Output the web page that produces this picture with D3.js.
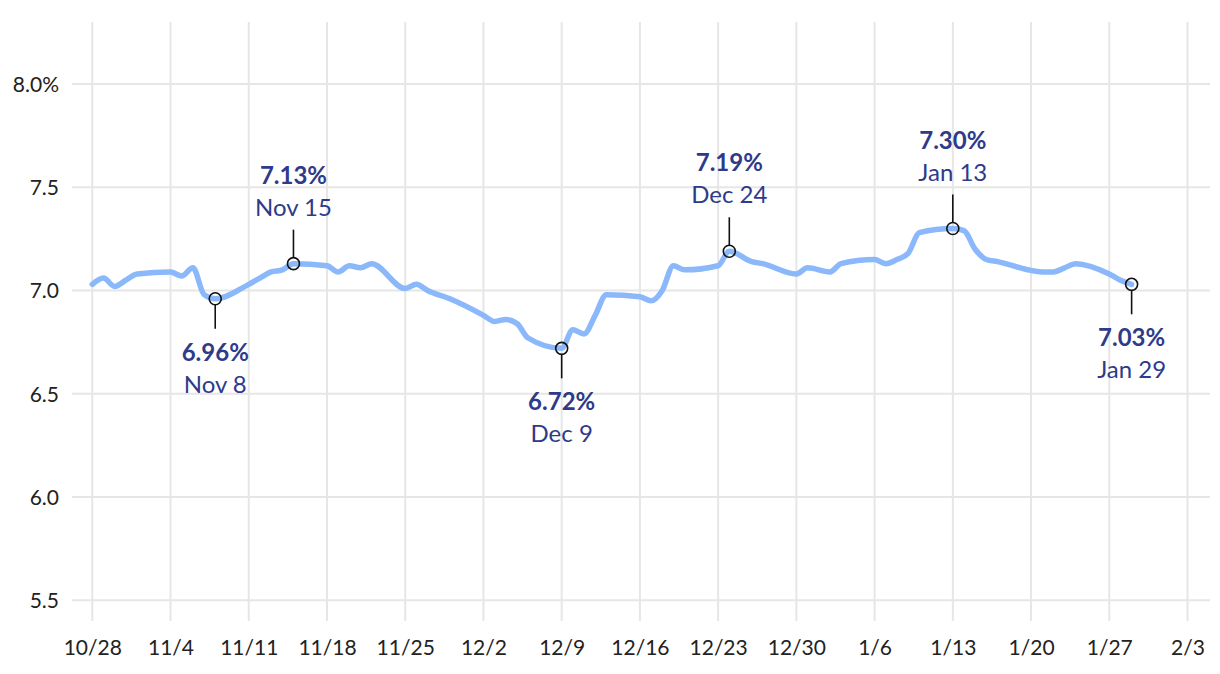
<!DOCTYPE html>
<html>
<head>
<meta charset="utf-8">
<script src="https://cdn.jsdelivr.net/npm/d3@7"></script>
<style>
  html, body { margin: 0; padding: 0; background: #fff; }
  svg { display: block; font-family: "Lato", "Source Sans Pro", sans-serif; }
</style>
</head>
<body>
<svg id="chart" width="1220" height="674"></svg>
<script>
// ---- data ----
const dates = [
  "2024-10-28","2024-10-29","2024-10-30","2024-10-31","2024-11-01",
  "2024-11-04","2024-11-05","2024-11-06","2024-11-07","2024-11-08",
  "2024-11-11","2024-11-12","2024-11-13","2024-11-14","2024-11-15",
  "2024-11-18","2024-11-19","2024-11-20","2024-11-21","2024-11-22",
  "2024-11-25","2024-11-26","2024-11-27","2024-11-29",
  "2024-12-02","2024-12-03","2024-12-04","2024-12-05","2024-12-06",
  "2024-12-09","2024-12-10","2024-12-11","2024-12-12","2024-12-13",
  "2024-12-16","2024-12-17","2024-12-18","2024-12-19","2024-12-20",
  "2024-12-23","2024-12-24","2024-12-26","2024-12-27",
  "2024-12-30","2024-12-31","2025-01-02","2025-01-03",
  "2025-01-06","2025-01-07","2025-01-08","2025-01-09","2025-01-10",
  "2025-01-13","2025-01-14","2025-01-15","2025-01-16","2025-01-17",
  "2025-01-21","2025-01-22","2025-01-23","2025-01-24",
  "2025-01-27","2025-01-28","2025-01-29"
];
const rates = [
  7.03, 7.06, 7.02, 7.05, 7.08,
  7.09, 7.07, 7.11, 6.98, 6.96,
  7.03, 7.06, 7.09, 7.10, 7.13,
  7.12, 7.09, 7.12, 7.11, 7.13,
  7.01, 7.03, 7.00, 6.96,
  6.88, 6.85, 6.86, 6.84, 6.77,
  6.72, 6.81, 6.79, 6.88, 6.98,
  6.97, 6.95, 7.00, 7.12, 7.10,
  7.12, 7.19, 7.14, 7.13,
  7.08, 7.11, 7.09, 7.13,
  7.15, 7.13, 7.15, 7.18, 7.28,
  7.30, 7.29, 7.20, 7.15, 7.14,
  7.09, 7.09, 7.11, 7.13,
  7.08, 7.05, 7.03
];
const annDates  = ["2024-11-08","2024-11-15","2024-12-09","2024-12-24","2025-01-13","2025-01-29"];
const annValues = [6.96, 7.13, 6.72, 7.19, 7.30, 7.03];
const annLabels = ["Nov 8","Nov 15","Dec 9","Dec 24","Jan 13","Jan 29"];
const annSide   = ["below","above","below","above","above","below"];

const xTickDates = ["2024-10-28","2024-11-04","2024-11-11","2024-11-18","2024-11-25",
  "2024-12-02","2024-12-09","2024-12-16","2024-12-23","2024-12-30",
  "2025-01-06","2025-01-13","2025-01-20","2025-01-27","2025-02-03"];
const xTickLabels = ["10/28","11/4","11/11","11/18","11/25","12/2","12/9","12/16",
  "12/23","12/30","1/6","1/13","1/20","1/27","2/3"];
const yTicks = [5.5, 6.0, 6.5, 7.0, 7.5, 8.0];
const yTickLabels = ["5.5","6.0","6.5","7.0","7.5","8.0%"];

// ---- drawing ----
const parse = d3.timeParse("%Y-%m-%d");
const svg = d3.select("#chart");

const x = d3.scaleTime()
  .domain([parse("2024-10-28"), parse("2025-02-03")])
  .range([92.3, 1187.5]);
const y = d3.scaleLinear().domain([5.4, 8.3]).range([621, 22]);

const gridColor = "#e6e6e6";
const textColor = "#2e3a8a";

// grid
const grid = svg.append("g");
grid.selectAll("line.v").data(xTickDates).join("line")
  .attr("x1", d => x(parse(d))).attr("x2", d => x(parse(d)))
  .attr("y1", y(8.3)).attr("y2", y(5.4))
  .attr("stroke", gridColor).attr("stroke-width", 2);
grid.selectAll("line.h").data(yTicks).join("line")
  .attr("x1", 72).attr("x2", 1210)
  .attr("y1", d => y(d)).attr("y2", d => y(d))
  .attr("stroke", gridColor).attr("stroke-width", 2);

// axes
const yAxis = d3.axisLeft(y).tickValues(yTicks)
  .tickFormat((d, i) => yTickLabels[i]).tickSize(0).tickPadding(0);
const gy = svg.append("g").attr("transform", "translate(59,0)").call(yAxis);
gy.select(".domain").remove();
gy.selectAll("text").attr("font-size", 21).attr("fill", "#222")
  .attr("font-family", "Lato, sans-serif").attr("dy", "0.35em");

const xAxis = d3.axisBottom(x).tickValues(xTickDates.map(parse))
  .tickFormat((d, i) => xTickLabels[i]).tickSize(0).tickPadding(0);
const gx = svg.append("g").attr("transform", "translate(0,640)").call(xAxis);
gx.select(".domain").remove();
gx.selectAll("text").attr("font-size", 21).attr("fill", "#222")
  .attr("font-family", "Lato, sans-serif").attr("dy", "0.7em");

// line
const series = dates.map((d, i) => ({ date: parse(d), v: rates[i] }));
const line = d3.line().x(d => x(d.date)).y(d => y(d.v)).curve(d3.curveMonotoneX);
svg.append("path").datum(series)
  .attr("d", line).attr("fill", "none")
  .attr("stroke", "#8ab8fa").attr("stroke-width", 5.5)
  .attr("stroke-linecap", "round").attr("stroke-linejoin", "round");

// annotations
const ann = annDates.map((d, i) => ({ date: parse(d), v: annValues[i], label: annLabels[i], side: annSide[i] }));
const ag = svg.append("g").selectAll("g").data(ann).join("g")
  .attr("transform", d => `translate(${x(d.date)},${y(d.v)})`);
ag.append("line")
  .attr("x1", 0).attr("x2", 0)
  .attr("y1", d => d.side === "above" ? -6 : 6)
  .attr("y2", d => d.side === "above" ? -34 : 30)
  .attr("stroke", "#111").attr("stroke-width", 1.6);
ag.append("circle").attr("r", 6)
  .attr("fill", "none").attr("stroke", "#111").attr("stroke-width", 1.6);
ag.append("text")
  .attr("text-anchor", "middle")
  .attr("y", d => d.side === "above" ? -80 : 62)
  .attr("font-size", 24).attr("font-weight", 700).attr("fill", textColor)
  .text(d => d.v.toFixed(2) + "%");
ag.append("text")
  .attr("text-anchor", "middle")
  .attr("y", d => d.side === "above" ? -48 : 94)
  .attr("font-size", 24).attr("fill", textColor)
  .text(d => d.label);
</script>
</body>
</html>
